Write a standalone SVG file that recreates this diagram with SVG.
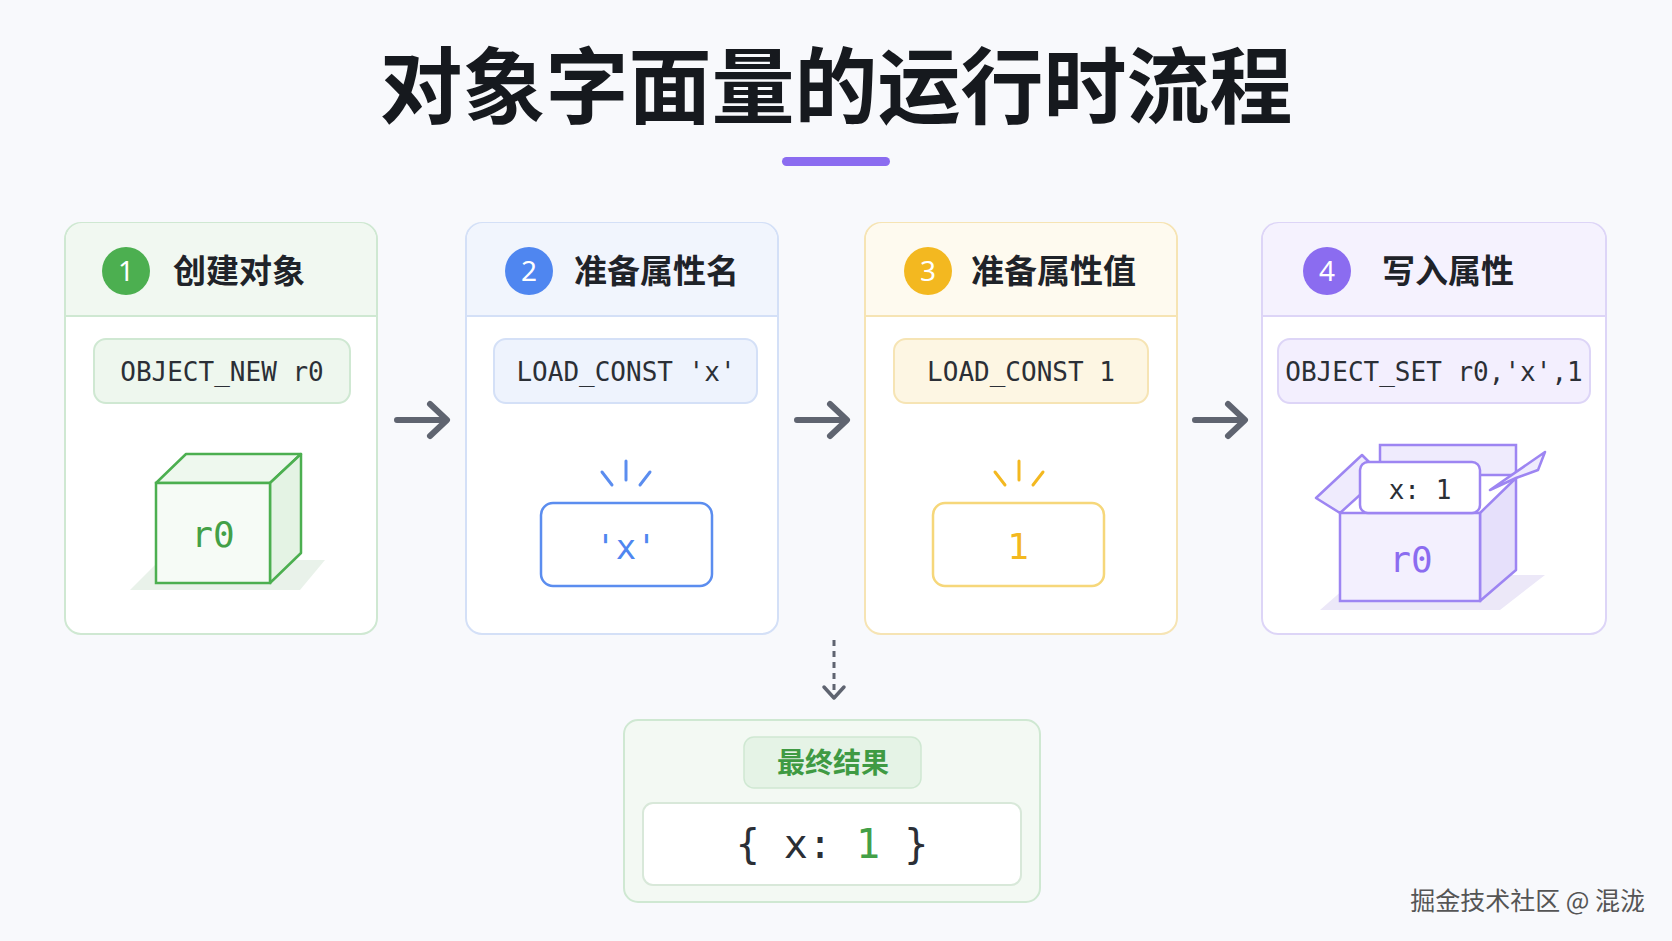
<svg xmlns="http://www.w3.org/2000/svg" width="1672" height="941" viewBox="0 0 1672 941">
<defs>
<style>
.t{font-family:"Noto Sans CJK SC","Noto Sans",sans-serif;font-weight:700;fill:#1f2329}
.m{font-family:"DejaVu Sans Mono","Liberation Mono",monospace;fill:#2b2f36}
.card{fill:#fff;stroke-width:2}
.num{font-family:"Noto Sans",sans-serif;font-size:28px;fill:#fff;text-anchor:middle}
.ar{fill:none;stroke:#5f6470;stroke-width:6;stroke-linecap:round;stroke-linejoin:round}
</style>
</defs>
<rect width="1672" height="941" fill="#f8f9fc"/>
<text x="836" y="117" text-anchor="middle" class="t" font-size="83" style="fill:#16191e">对象字面量的运行时流程</text>
<rect x="782" y="157" width="108" height="9" rx="4.5" fill="#8b6cf0"/>

<g id="card1">
<rect x="65" y="223" width="312" height="411" rx="16" class="card" stroke="#cfe8d2"/>
<path d="M66 316 V239 a16 16 0 0 1 16 -16 H360 a16 16 0 0 1 16 16 V316 Z" fill="#f1f8f1"/>
<line x1="65" y1="316" x2="377" y2="316" stroke="#cfe8d2" stroke-width="2"/>
<circle cx="126" cy="271" r="24" fill="#4caf50"/><text x="126" y="281" class="num">1</text>
<text x="173" y="283" class="t" font-size="33">创建对象</text>
<rect x="94" y="339" width="256" height="64" rx="12" fill="#eef7ee" stroke="#cfe8d2" stroke-width="2"/>
<text x="222" y="381" text-anchor="middle" class="m" font-size="26">OBJECT_NEW r0</text>
<path d="M130 590 L300 590 L325 560 L160 560 Z" fill="#e9f2ea"/>
<path d="M156 483 L186 454 L301 454 L270 483 Z" fill="#eef8ee" stroke="#4caf50" stroke-width="2.5" stroke-linejoin="round"/>
<path d="M270 483 L301 454 L301 553 L270 583 Z" fill="#e4f3e4" stroke="#4caf50" stroke-width="2.5" stroke-linejoin="round"/>
<rect x="156" y="483" width="114" height="100" fill="#f6fbf6" stroke="#4caf50" stroke-width="2.5"/>
<text x="213" y="547" text-anchor="middle" class="m" font-size="36" style="fill:#43a047">r0</text>
</g>

<g id="card2">
<rect x="466" y="223" width="312" height="411" rx="16" class="card" stroke="#d4e0f7"/>
<path d="M467 316 V239 a16 16 0 0 1 16 -16 H761 a16 16 0 0 1 16 16 V316 Z" fill="#f1f5fd"/>
<line x1="466" y1="316" x2="778" y2="316" stroke="#d4e0f7" stroke-width="2"/>
<circle cx="529" cy="271" r="24" fill="#4f86f0"/><text x="529" y="281" class="num">2</text>
<text x="574" y="283" class="t" font-size="33">准备属性名</text>
<rect x="494" y="339" width="263" height="64" rx="12" fill="#eef3fd" stroke="#d4e0f7" stroke-width="2"/>
<text x="626" y="381" text-anchor="middle" class="m" font-size="26">LOAD_CONST 'x'</text>
<g stroke="#5b8def" stroke-width="3" stroke-linecap="round"><line x1="626" y1="461" x2="626" y2="480"/><line x1="602" y1="472" x2="612" y2="485"/><line x1="650" y1="472" x2="640" y2="485"/></g>
<rect x="541" y="503" width="171" height="83" rx="12" fill="#fff" stroke="#5b8def" stroke-width="2.5"/>
<text x="626" y="559" text-anchor="middle" class="m" font-size="34" style="fill:#4f86f0">'x'</text>
</g>

<g id="card3">
<rect x="865" y="223" width="312" height="411" rx="16" class="card" stroke="#f6e4b4"/>
<path d="M866 316 V239 a16 16 0 0 1 16 -16 H1160 a16 16 0 0 1 16 16 V316 Z" fill="#fefaef"/>
<line x1="865" y1="316" x2="1177" y2="316" stroke="#f6e4b4" stroke-width="2"/>
<circle cx="928" cy="271" r="24" fill="#f3b820"/><text x="928" y="281" class="num">3</text>
<text x="971" y="283" class="t" font-size="33">准备属性值</text>
<rect x="894" y="339" width="254" height="64" rx="12" fill="#fdf6e3" stroke="#f6e4b4" stroke-width="2"/>
<text x="1021" y="381" text-anchor="middle" class="m" font-size="26">LOAD_CONST 1</text>
<g stroke="#f3b820" stroke-width="3" stroke-linecap="round"><line x1="1019" y1="461" x2="1019" y2="480"/><line x1="995" y1="472" x2="1005" y2="485"/><line x1="1043" y1="472" x2="1033" y2="485"/></g>
<rect x="933" y="503" width="171" height="83" rx="12" fill="#fff" stroke="#f6d77a" stroke-width="2.5"/>
<text x="1018" y="559" text-anchor="middle" class="m" font-size="36" style="fill:#f3b820">1</text>
</g>

<g id="card4">
<rect x="1262" y="223" width="344" height="411" rx="16" class="card" stroke="#ddd5f7"/>
<path d="M1263 316 V239 a16 16 0 0 1 16 -16 H1589 a16 16 0 0 1 16 16 V316 Z" fill="#f5f2fe"/>
<line x1="1262" y1="316" x2="1606" y2="316" stroke="#ddd5f7" stroke-width="2"/>
<circle cx="1327" cy="271" r="24" fill="#8b6cf0"/><text x="1327" y="281" class="num">4</text>
<text x="1382" y="283" class="t" font-size="33">写入属性</text>
<rect x="1278" y="339" width="312" height="64" rx="12" fill="#f3effe" stroke="#ddd5f7" stroke-width="2"/>
<text x="1434" y="381" text-anchor="middle" class="m" font-size="26">OBJECT_SET r0,'x',1</text>
<path d="M1320 610 L1500 610 L1545 575 L1360 575 Z" fill="#ece8f8"/>
<path d="M1380 445 L1516 445 L1516 475 L1380 475 Z" fill="#efebfd" stroke="#9d85f2" stroke-width="2.5"/>
<path d="M1480 513 L1516 478 L1516 570 L1480 601 Z" fill="#e6e0fb" stroke="#9d85f2" stroke-width="2.5" stroke-linejoin="round"/>
<path d="M1340 513 L1316 498 L1362 455 L1382 475 Z" fill="#efebfd" stroke="#9d85f2" stroke-width="2.5" stroke-linejoin="round"/>
<path d="M1516 478 L1538 470 L1545 452 L1490 490 Z" fill="#efebfd" stroke="#9d85f2" stroke-width="2.5" stroke-linejoin="round"/>
<rect x="1340" y="513" width="140" height="88" fill="#f3f0fe" stroke="#9d85f2" stroke-width="2.5"/>
<rect x="1360" y="462" width="120" height="51" rx="8" fill="#fff" stroke="#9d85f2" stroke-width="2.5"/>
<text x="1420" y="499" text-anchor="middle" class="m" font-size="26">x: 1</text>
<text x="1411" y="572" text-anchor="middle" class="m" font-size="36" style="fill:#8b6cf0">r0</text>
</g>

<g id="connectors">
<path class="ar" d="M397 420 H446 M430 404 L447 420 L430 436"/>
<path class="ar" d="M797 420 H846 M830 404 L847 420 L830 436"/>
<path class="ar" d="M1195 420 H1244 M1228 404 L1245 420 L1228 436"/>
<line x1="834" y1="640" x2="834" y2="690" stroke="#5f6470" stroke-width="3" stroke-dasharray="6 5"/>
<path d="M824 687 L834 698 L844 687" fill="none" stroke="#5f6470" stroke-width="3.5" stroke-linecap="round" stroke-linejoin="round"/>
</g>

<g id="result">
<rect x="624" y="720" width="416" height="182" rx="14" fill="#f3f9f3" stroke="#cfe8d2" stroke-width="2"/>
<rect x="744" y="737" width="177" height="51" rx="10" fill="#e5f3e6" stroke="#cfe8d2" stroke-width="1.5"/>
<text x="833" y="773" text-anchor="middle" class="t" font-size="28" style="fill:#3f9a43">最终结果</text>
<rect x="643" y="803" width="378" height="82" rx="10" fill="#fff" stroke="#d8e8d9" stroke-width="2"/>
<text x="832" y="858" text-anchor="middle" class="m" font-size="40" xml:space="preserve">{ x: <tspan style="fill:#43a047">1</tspan> }</text>
</g>
<text x="1645" y="910" text-anchor="end" font-family="Noto Sans CJK SC,sans-serif" font-size="25" fill="#555">掘金技术社区 @ 混泷</text>
</svg>
